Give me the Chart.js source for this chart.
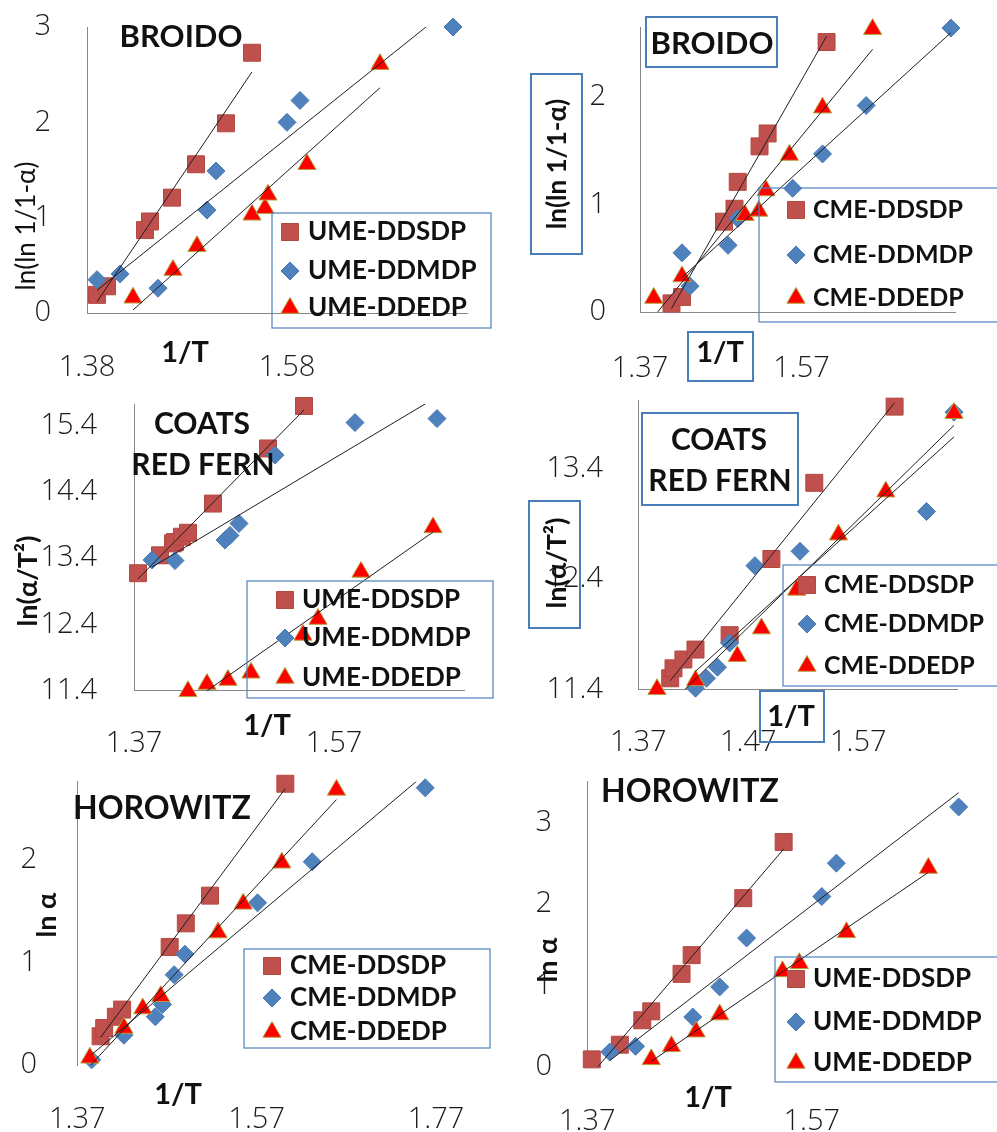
<!DOCTYPE html>
<html>
<head>
<meta charset="utf-8">
<script src="https://cdn.jsdelivr.net/npm/chart.js@4.4.1/dist/chart.umd.min.js"></script>
<style>
  body { margin: 0; background: #fff; }
  #page { position: relative; width: 997px; height: 1132px; overflow: hidden; background: #fff; }
  #page canvas { position: absolute; }
</style>
</head>
<body>
<div id="page"></div>
<script>
// series names
const umeNames = ["UME-DDSDP", "UME-DDMDP", "UME-DDEDP"];
const cmeNames = ["CME-DDSDP", "CME-DDMDP", "CME-DDEDP"];

// Broido, UME  [1/T, ln(ln 1/1-a)]
const broidoUmeSdp = [[1.390, 0.19], [1.400, 0.28], [1.438, 0.87], [1.443, 0.96], [1.465, 1.21], [1.489, 1.56], [1.519, 1.99], [1.545, 2.73]];
const broidoUmeMdp = [[1.390, 0.35], [1.413, 0.41], [1.451, 0.26], [1.500, 1.08], [1.509, 1.49], [1.580, 2.00], [1.593, 2.23], [1.746, 3.00]];
const broidoUmeEdp = [[1.426, 0.16], [1.466, 0.45], [1.490, 0.70], [1.545, 1.03], [1.558, 1.10], [1.561, 1.24], [1.600, 1.56], [1.673, 2.61]];
const broidoUmeXTicks = ["1.38", "1.58"];
const broidoUmeYTicks = ["0", "1", "2", "3"];

// Broido, CME
const broidoCmeSdp = [[1.409, 0.08], [1.422, 0.14], [1.474, 0.84], [1.487, 0.96], [1.491, 1.21], [1.518, 1.54], [1.528, 1.66], [1.601, 2.51]];
const broidoCmeMdp = [[1.422, 0.55], [1.432, 0.24], [1.479, 0.62], [1.491, 0.87], [1.559, 1.15], [1.596, 1.47], [1.650, 1.92], [1.755, 2.64]];
const broidoCmeEdp = [[1.387, 0.13], [1.422, 0.33], [1.500, 0.90], [1.517, 0.94], [1.526, 1.13], [1.555, 1.46], [1.596, 1.90], [1.658, 2.63]];
const broidoCmeXTicks = ["1.37", "1.57"];
const broidoCmeYTicks = ["0", "1", "2"];

// Coats-Redfern, UME  [1/T, ln(a/T^2)]
const coatsUmeSdp = [[1.374, 13.17], [1.396, 13.44], [1.409, 13.62], [1.411, 13.64], [1.418, 13.72], [1.424, 13.78], [1.449, 14.22], [1.504, 15.05], [1.540, 15.69]];
const coatsUmeMdp = [[1.388, 13.37], [1.411, 13.36], [1.461, 13.67], [1.466, 13.74], [1.475, 13.92], [1.511, 14.95], [1.591, 15.44], [1.673, 15.50]];
const coatsUmeEdp = [[1.424, 11.39], [1.443, 11.50], [1.464, 11.56], [1.487, 11.67], [1.539, 12.24], [1.554, 12.48], [1.597, 13.19], [1.669, 13.86]];
const coatsUmeXTicks = ["1.37", "1.57"];
const coatsUmeYTicks = ["11.4", "12.4", "13.4", "14.4", "15.4"];

// Coats-Redfern, CME
const coatsCmeSdp = [[1.399, 11.50], [1.402, 11.59], [1.411, 11.67], [1.422, 11.76], [1.453, 11.89], [1.491, 12.58], [1.530, 13.27], [1.603, 13.96]];
const coatsCmeMdp = [[1.422, 11.41], [1.432, 11.50], [1.442, 11.60], [1.453, 11.82], [1.476, 12.52], [1.517, 12.65], [1.632, 13.01], [1.657, 13.91]];
const coatsCmeEdp = [[1.387, 11.40], [1.422, 11.48], [1.460, 11.70], [1.482, 11.95], [1.514, 12.30], [1.552, 12.80], [1.595, 13.19], [1.657, 13.90]];
const coatsCmeXTicks = ["1.37", "1.47", "1.57"];
const coatsCmeYTicks = ["11.4", "12.4", "13.4"];

// Horowitz, CME  [1/T, ln a]
const horowitzCmeSdp = [[1.396, 0.28], [1.400, 0.36], [1.413, 0.47], [1.420, 0.54], [1.473, 1.15], [1.491, 1.38], [1.518, 1.65], [1.602, 2.74]];
const horowitzCmeMdp = [[1.386, 0.05], [1.422, 0.29], [1.457, 0.47], [1.465, 0.59], [1.478, 0.88], [1.490, 1.08], [1.571, 1.58], [1.632, 1.98], [1.758, 2.70]];
const horowitzCmeEdp = [[1.384, 0.07], [1.422, 0.36], [1.443, 0.55], [1.463, 0.67], [1.527, 1.29], [1.555, 1.57], [1.598, 1.97], [1.659, 2.68]];
const horowitzCmeXTicks = ["1.37", "1.57", "1.77"];
const horowitzCmeYTicks = ["0", "1", "2"];

// Horowitz, UME
const horowitzUmeSdp = [[1.374, 0.09], [1.399, 0.27], [1.419, 0.57], [1.427, 0.68], [1.454, 1.14], [1.463, 1.37], [1.509, 2.07], [1.545, 2.76]];
const horowitzUmeMdp = [[1.390, 0.18], [1.413, 0.25], [1.464, 0.61], [1.488, 0.98], [1.512, 1.58], [1.579, 2.09], [1.592, 2.50], [1.701, 3.19]];
const horowitzUmeEdp = [[1.427, 0.09], [1.445, 0.25], [1.467, 0.43], [1.488, 0.64], [1.544, 1.17], [1.559, 1.27], [1.601, 1.65], [1.674, 2.44]];
const horowitzUmeXTicks = ["1.37", "1.57"];
const horowitzUmeYTicks = ["0", "1", "2", "3"];

// marker look per series (square, diamond, triangle)
const MARKERS = [
    { pointStyle: "rect", radius: 12, fill: "#C0504D", stroke: "#B4483F", bw: 1 },
    { pointStyle: "rectRot", radius: 9, fill: "#4F81BD", stroke: "#4A7AB4", bw: 1 },
    { pointStyle: "triangle", radius: 10.5, fill: "#FF0000", stroke: "#B5A13A", bw: 1 },
];

const FONT = "Lato, 'Open Sans', sans-serif";
const TICK_FONT = "'Open Sans', Lato, sans-serif";
const TICK_SIZE = 29;

// least squares trendline over the x-range of the series
function fitLine(pts) {
    const n = pts.length;
    const mx = pts.reduce((s, p) => s + p[0], 0) / n;
    const my = pts.reduce((s, p) => s + p[1], 0) / n;
    let sxy = 0, sxx = 0;
    pts.forEach(([x, y]) => {
        sxy += (x - mx) * (y - my);
        sxx += (x - mx) * (x - mx);
    });
    const b = sxy / sxx;
    const a = my - b * mx;
    const xs = pts.map(p => p[0]);
    const x0 = Math.min(...xs), x1 = Math.max(...xs);
    return [{ x: x0, y: a + b * x0 }, { x: x1, y: a + b * x1 }];
}

function buildDatasets(series, names) {
    const sets = [];
    series.forEach((pts, i) => {
        sets.push({
            label: names[i] + " linear",
            data: fitLine(pts),
            showLine: true,
            borderColor: "#1e1e1e",
            borderWidth: 1,
            pointRadius: 0,
            order: 0,
        });
    });
    series.forEach((pts, i) => {
        const m = MARKERS[i];
        sets.push({
            label: names[i],
            data: pts.map(([x, y]) => ({ x, y })),
            pointStyle: m.pointStyle,
            pointRadius: m.radius,
            backgroundColor: m.fill,
            borderColor: m.stroke,
            borderWidth: m.bw,
            showLine: false,
            clip: false,
            order: 3 - i,
        });
    });
    return sets;
}

function drawMarker(ctx, m, x, y) {
    const r = m.radius;
    ctx.beginPath();
    if (m.pointStyle === "rect") {
        const s = r * Math.SQRT1_2;
        ctx.rect(x - s, y - s, 2 * s, 2 * s);
    } else if (m.pointStyle === "rectRot") {
        ctx.moveTo(x - r, y);
        ctx.lineTo(x, y - r);
        ctx.lineTo(x + r, y);
        ctx.lineTo(x, y + r);
        ctx.closePath();
    } else {
        ctx.moveTo(x, y - r);
        ctx.lineTo(x + r * 0.866, y + r / 2);
        ctx.lineTo(x - r * 0.866, y + r / 2);
        ctx.closePath();
    }
    ctx.fillStyle = m.fill;
    ctx.fill();
    ctx.lineWidth = m.bw;
    ctx.strokeStyle = m.stroke;
    ctx.stroke();
}

// titles, boxed labels and the in-plot legend (page coordinates)
function decorPlugin(p) {
    return {
        id: "panelDecor",
        afterDraw(chart) {
            const ctx = chart.ctx;
            ctx.save();
            ctx.translate(-p.box[0], -p.box[1]);

            ctx.strokeStyle = "#4A7EBB";
            ctx.lineWidth = 2;
            (p.frames || []).forEach(([x1, y1, x2, y2]) => ctx.strokeRect(x1, y1, x2 - x1, y2 - y1));

            ctx.fillStyle = "#111";
            ctx.textAlign = "center";
            ctx.textBaseline = "middle";
            p.texts.forEach(t => {
                ctx.font = t.f;
                if (t.rot) {
                    ctx.save();
                    ctx.translate(t.x, t.y);
                    ctx.rotate(-Math.PI / 2);
                    ctx.fillText(t.t, 0, 0);
                    ctx.restore();
                } else {
                    ctx.fillText(t.t, t.x, t.y);
                }
            });

            const lg = p.legend;
            ctx.strokeStyle = "#4F81BD";
            ctx.lineWidth = 1.2;
            ctx.strokeRect(lg.box[0], lg.box[1], lg.box[2] - lg.box[0], lg.box[3] - lg.box[1]);
            p.names.forEach((name, i) => {
                drawMarker(ctx, MARKERS[i], lg.mx, lg.rows[i]);
                ctx.fillStyle = "#111";
                ctx.font = lg.f;
                ctx.textAlign = "left";
                ctx.fillText(name, lg.tx, lg.rows[i]);
            });
            ctx.restore();
        },
    };
}

const panels = [
    {
        box: [0, 0, 500, 395], area: [87, 27, 467, 313],
        x: [1.38, 1.76], y: [0, 3], xTicks: broidoUmeXTicks, yTicks: broidoUmeYTicks,
        xLabelY: 368, yLabelRight: 51, xBorder: true,
        series: [broidoUmeSdp, broidoUmeMdp, broidoUmeEdp], names: umeNames,
        texts: [
            { t: "BROIDO", x: 181, y: 37, f: `bold 31px ${FONT}` },
            { t: "1/T", x: 185, y: 353, f: `bold 29px ${FONT}` },
            { t: "ln(ln 1/1-α)", x: 27, y: 226, f: `26px ${FONT}`, rot: true },
        ],
        legend: { box: [272, 213, 491, 328], mx: 290, tx: 308, rows: [232, 271, 308], f: `bold 26px ${FONT}` },
    },
    {
        box: [500, 0, 497, 395], area: [640, 27, 955, 312],
        x: [1.37, 1.76], y: [0, 2.65], xTicks: broidoCmeXTicks, yTicks: broidoCmeYTicks,
        xLabelY: 368.5, yLabelRight: 606, xBorder: true,
        series: [broidoCmeSdp, broidoCmeMdp, broidoCmeEdp], names: cmeNames,
        frames: [[646, 17, 777, 67], [531, 74, 582, 254], [688, 332, 753, 381]],
        texts: [
            { t: "BROIDO", x: 712, y: 44, f: `bold 31px ${FONT}` },
            { t: "1/T", x: 720, y: 353, f: `bold 29px ${FONT}` },
            { t: "ln(ln 1/1-α)", x: 558, y: 164, f: `bold 26px ${FONT}`, rot: true },
        ],
        legend: { box: [759, 188, 1005, 322], mx: 796, tx: 813, rows: [210, 255, 298], f: `bold 25px ${FONT}` },
    },
    {
        box: [0, 380, 500, 385], area: [134, 404, 464, 690.7],
        x: [1.37, 1.70], y: [11.4, 15.72], xTicks: coatsUmeXTicks, yTicks: coatsUmeYTicks,
        xLabelY: 744, yLabelRight: 97, xBorder: true,
        series: [coatsUmeSdp, coatsUmeMdp, coatsUmeEdp], names: umeNames,
        texts: [
            { t: "COATS", x: 202, y: 424, f: `bold 30px ${FONT}` },
            { t: "RED FERN", x: 203, y: 465, f: `bold 30px ${FONT}` },
            { t: "1/T", x: 267, y: 726, f: `bold 29px ${FONT}` },
            { t: "ln(α/T²)", x: 28, y: 581, f: `bold 27px ${FONT}`, rot: true },
        ],
        legend: { box: [247, 581, 493, 698], mx: 285, tx: 302, rows: [600, 638, 678], f: `bold 26px ${FONT}` },
    },
    {
        box: [500, 380, 497, 385], area: [638.3, 400, 957.3, 689.3],
        x: [1.37, 1.66], y: [11.4, 14.02], xTicks: coatsCmeXTicks, yTicks: coatsCmeYTicks,
        xLabelY: 743, yLabelRight: 603, xBorder: true,
        series: [coatsCmeSdp, coatsCmeMdp, coatsCmeEdp], names: cmeNames,
        frames: [[642, 413, 798, 505], [529, 501, 580, 628], [760, 691, 824, 742]],
        texts: [
            { t: "COATS", x: 719, y: 440, f: `bold 30px ${FONT}` },
            { t: "RED FERN", x: 720, y: 481, f: `bold 30px ${FONT}` },
            { t: "1/T", x: 791, y: 717, f: `bold 29px ${FONT}` },
            { t: "ln(α/T²)", x: 557, y: 563, f: `bold 27px ${FONT}`, rot: true },
        ],
        legend: { box: [783, 565, 1005, 686], mx: 807, tx: 824, rows: [585, 624, 666], f: `bold 25px ${FONT}` },
    },
    {
        box: [0, 750, 500, 382], area: [77.3, 781.7, 436, 1065],
        x: [1.37, 1.77], y: [0, 2.76], xTicks: horowitzCmeXTicks, yTicks: horowitzCmeYTicks,
        xLabelY: 1120, yLabelRight: 37, xBorder: false,
        series: [horowitzCmeSdp, horowitzCmeMdp, horowitzCmeEdp], names: cmeNames,
        texts: [
            { t: "HOROWITZ", x: 162, y: 809, f: `bold 32px ${FONT}` },
            { t: "1/T", x: 178, y: 1095, f: `bold 29px ${FONT}` },
            { t: "ln α", x: 47, y: 915, f: `bold 27px ${FONT}`, rot: true },
        ],
        legend: { box: [244, 949, 490, 1048], mx: 272, tx: 290, rows: [966, 998, 1032], f: `bold 26px ${FONT}` },
    },
    {
        box: [500, 750, 497, 382], area: [587.3, 781.7, 980, 1066.7],
        x: [1.37, 1.72], y: [0, 3.5], xTicks: horowitzUmeXTicks, yTicks: horowitzUmeYTicks,
        xLabelY: 1121.5, yLabelRight: 552, xBorder: false,
        series: [horowitzUmeSdp, horowitzUmeMdp, horowitzUmeEdp], names: umeNames,
        texts: [
            { t: "HOROWITZ", x: 690, y: 792, f: `bold 32px ${FONT}` },
            { t: "1/T", x: 708, y: 1098, f: `bold 29px ${FONT}` },
            { t: "ln α", x: 548, y: 960, f: `bold 27px ${FONT}`, rot: true },
        ],
        legend: { box: [775, 957, 1005, 1082], mx: 796, tx: 813, rows: [979, 1022, 1063], f: `bold 26px ${FONT}` },
    },
];

// keep the plot area where the layout puts it: labels may overhang freely
function fixAxisBox(s, size) {
    if (s.isHorizontal()) s.height = size; else s.width = size;
    s.paddingTop = 0;
    s.paddingBottom = 0;
    s.paddingLeft = 0;
    s.paddingRight = 0;
}

function makePanel(p) {
    const [bl, bt, bw, bh] = p.box;
    const [al, at, ar, ab] = p.area;
    const cv = document.createElement("canvas");
    cv.width = bw;
    cv.height = bh;
    cv.style.left = bl + "px";
    cv.style.top = bt + "px";
    cv.style.width = bw + "px";
    cv.style.height = bh + "px";
    document.getElementById("page").appendChild(cv);

    // the axis boxes span from the canvas edge to the plot area so their labels are not clipped
    const yAxisWidth = al - bl;
    const xAxisHeight = bt + bh - ab;
    const tickFont = { family: TICK_FONT, size: TICK_SIZE, weight: "300" };
    return new Chart(cv, {
        type: "scatter",
        data: { datasets: buildDatasets(p.series, p.names) },
        options: {
            responsive: false,
            animation: false,
            devicePixelRatio: 1,
            events: [],
            layout: { padding: { left: 0, top: at - bt, right: bl + bw - ar, bottom: 0 } },
            plugins: { legend: { display: false }, tooltip: { enabled: false } },
            scales: {
                x: {
                    type: "linear",
                    min: p.x[0],
                    max: p.x[1],
                    grid: { display: false, drawTicks: false },
                    border: { display: p.xBorder, color: "#868686", width: 1 },
                    ticks: {
                        font: tickFont,
                        color: "#1c1c1c",
                        autoSkip: false,
                        maxRotation: 0,
                        padding: p.xLabelY - ab - 0.6 * TICK_SIZE,
                        callback: (v, i) => p.xTicks[i],
                    },
                    afterBuildTicks: s => { s.ticks = p.xTicks.map(l => ({ value: Number(l) })); },
                    afterFit: s => fixAxisBox(s, xAxisHeight),
                },
                y: {
                    type: "linear",
                    min: p.y[0],
                    max: p.y[1],
                    grid: { display: false, drawTicks: false },
                    border: { display: true, color: "#868686", width: 1 },
                    ticks: {
                        font: tickFont,
                        color: "#1c1c1c",
                        autoSkip: false,
                        padding: al - p.yLabelRight,
                        callback: (v, i) => p.yTicks[i],
                    },
                    afterBuildTicks: s => { s.ticks = p.yTicks.map(l => ({ value: Number(l) })); },
                    afterFit: s => fixAxisBox(s, yAxisWidth),
                },
            },
        },
        plugins: [decorPlugin(p)],
    });
}

panels.forEach(makePanel);
</script>
</body>
</html>
